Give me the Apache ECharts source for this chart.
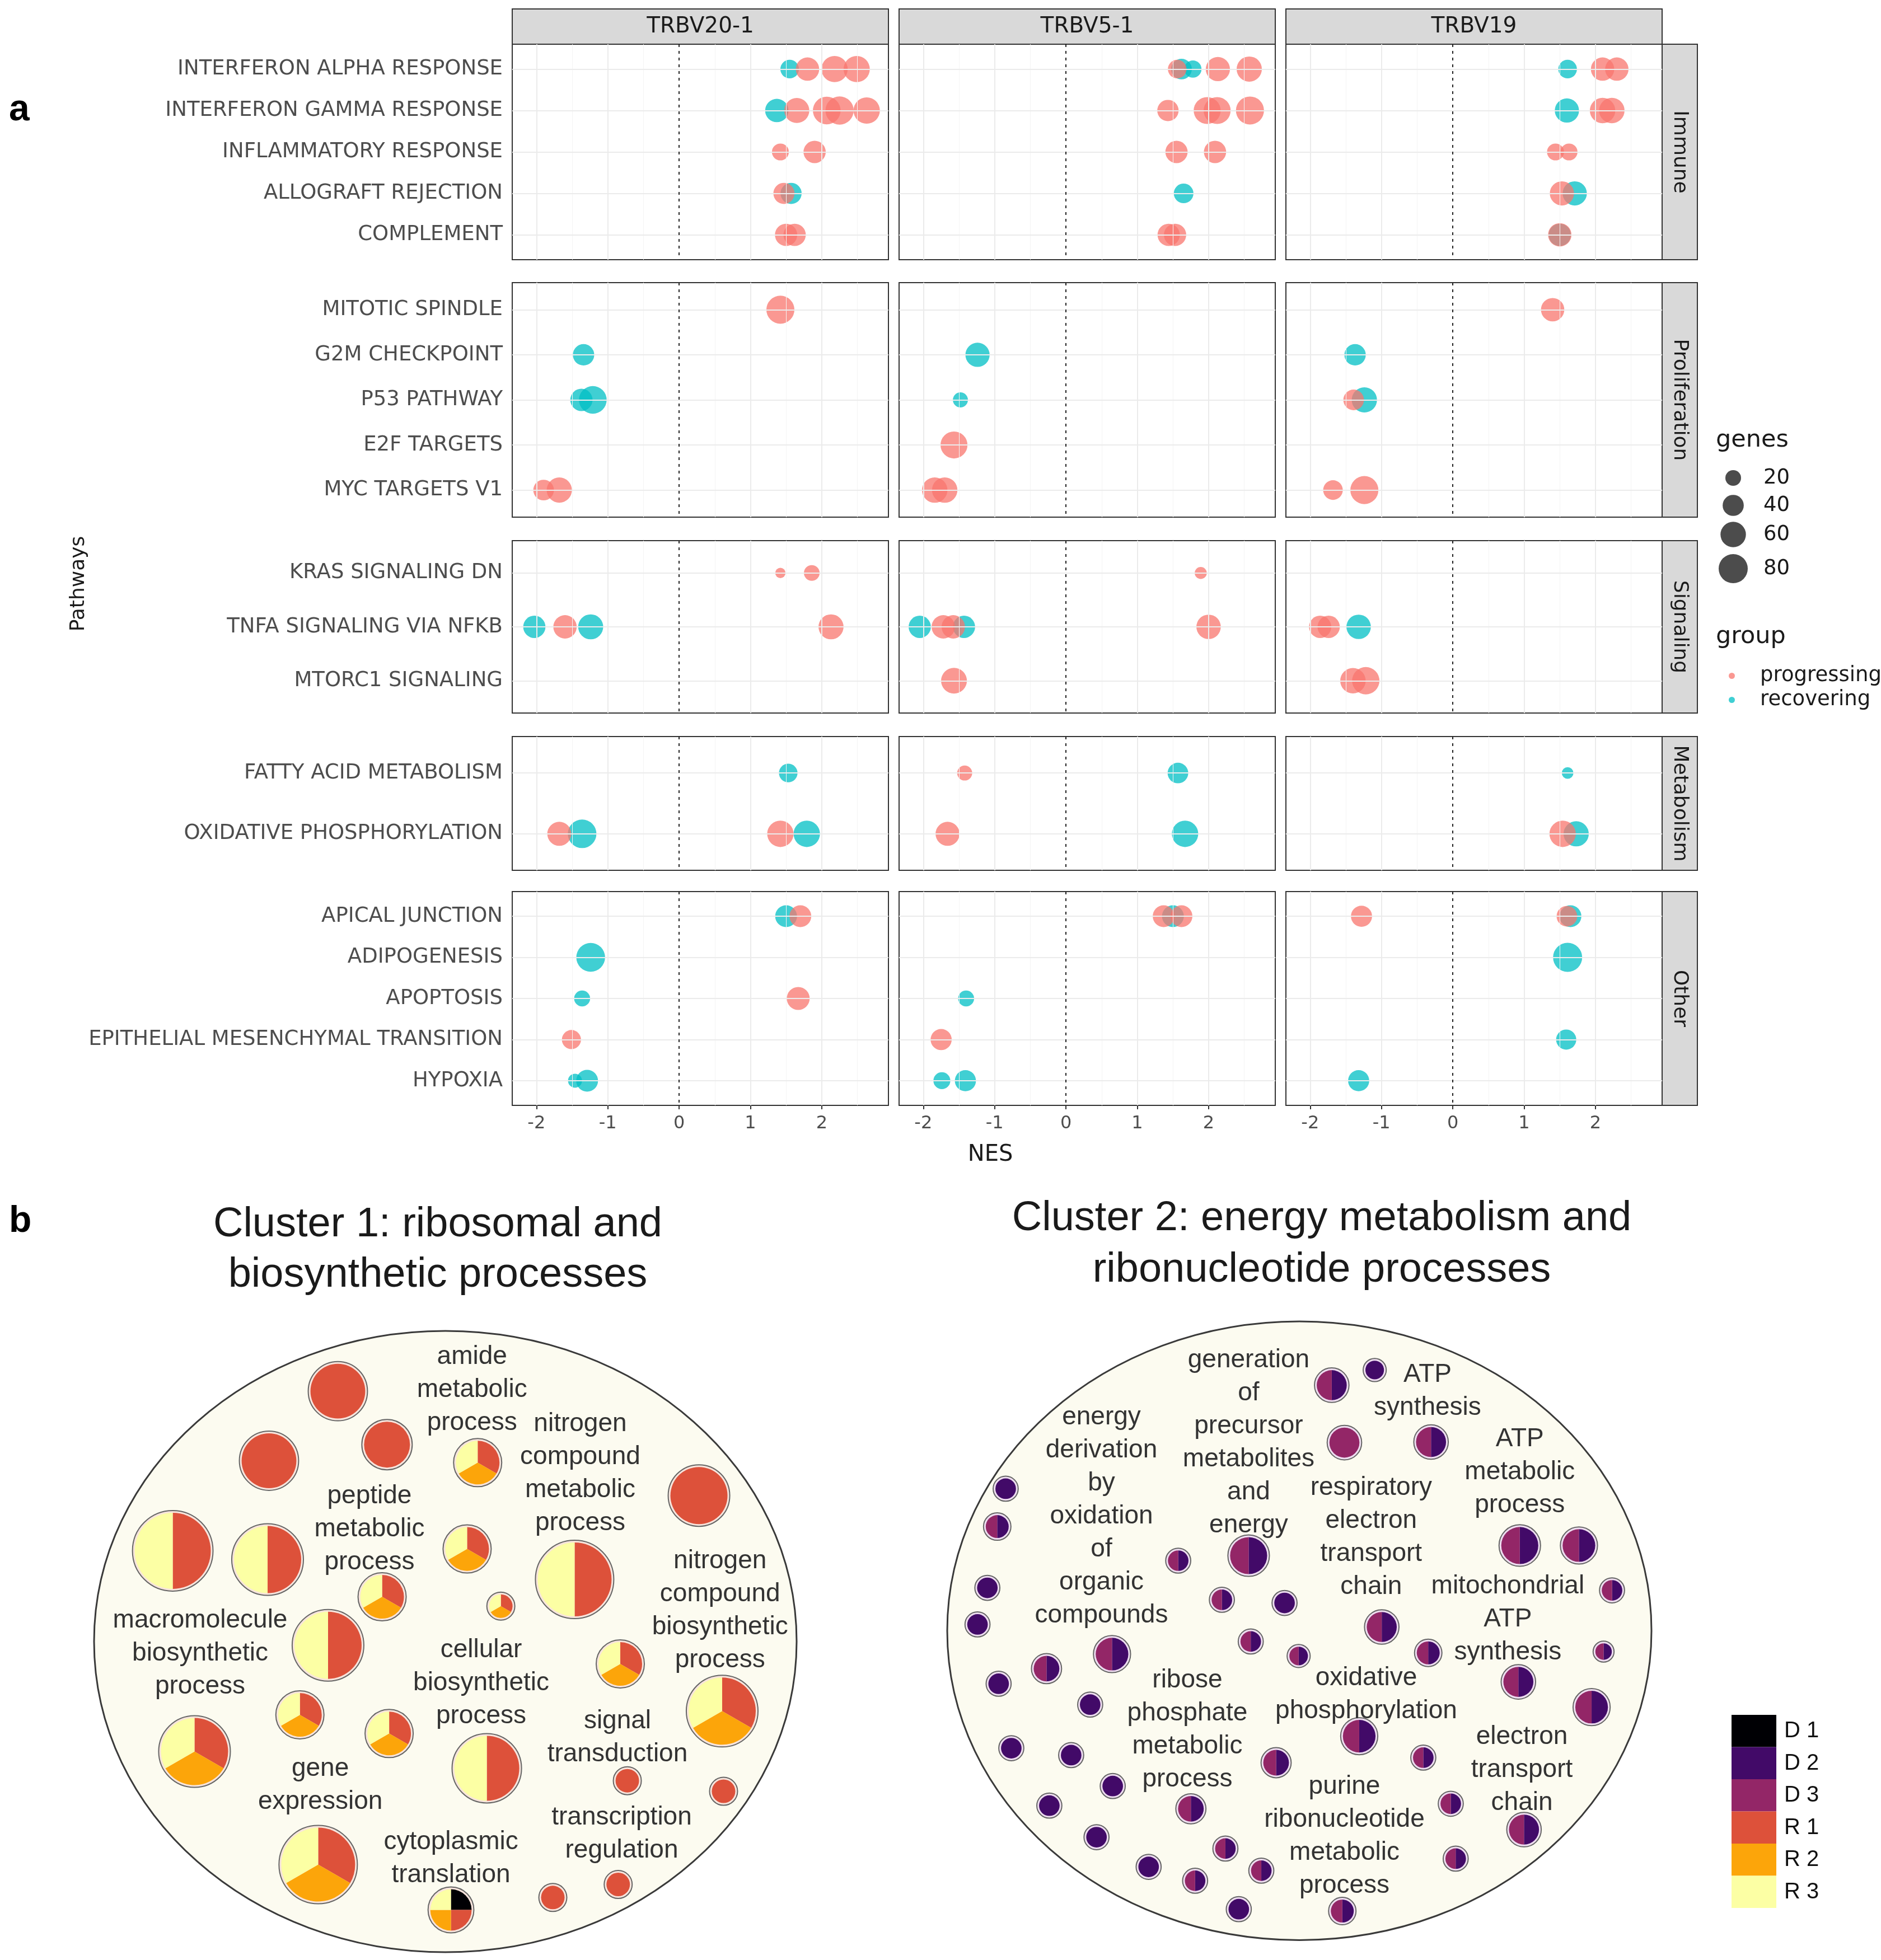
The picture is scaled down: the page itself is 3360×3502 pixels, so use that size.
<!DOCTYPE html>
<html>
<head>
<meta charset="utf-8">
<title>NES dot plot and GO term clusters</title>
<script src="https://cdn.jsdelivr.net/npm/echarts@6.0.0/dist/echarts.min.js"></script>
<style>
  html, body { margin: 0; padding: 0; background: #fff; }
  #main { width: 3360px; height: 3502px; }
</style>
</head>
<body>
<div id="main"></div>
<script>
// ---------- panel a : data ----------
const columns = ['TRBV20-1', 'TRBV5-1', 'TRBV19']
const facets = ['Immune', 'Proliferation', 'Signaling', 'Metabolism', 'Other']
const immune = ['INTERFERON ALPHA RESPONSE', 'INTERFERON GAMMA RESPONSE', 'INFLAMMATORY RESPONSE', 'ALLOGRAFT REJECTION', 'COMPLEMENT']
const proliferation = ['MITOTIC SPINDLE', 'G2M CHECKPOINT', 'P53 PATHWAY', 'E2F TARGETS', 'MYC TARGETS V1']
const signaling = ['KRAS SIGNALING DN', 'TNFA SIGNALING VIA NFKB', 'MTORC1 SIGNALING']
const metabolism = ['FATTY ACID METABOLISM', 'OXIDATIVE PHOSPHORYLATION']
const other = ['APICAL JUNCTION', 'ADIPOGENESIS', 'APOPTOSIS', 'EPITHELIAL MESENCHYMAL TRANSITION', 'HYPOXIA']
const pathways = [immune, proliferation, signaling, metabolism, other]
const groups = ['progressing', 'recovering']
const drawOrder = ['recovering', 'progressing']
const xTicks = [-2, -1, 0, 1, 2]
const geneBreaks = [20, 40, 60, 80]

// [pathway, group, NES, genes]
const P = 'progressing', R = 'recovering'
const trbv20_1 = [
  ['INTERFERON ALPHA RESPONSE', R, 1.55, 30], ['INTERFERON ALPHA RESPONSE', P, 1.80, 50],
  ['INTERFERON ALPHA RESPONSE', P, 2.18, 64], ['INTERFERON ALPHA RESPONSE', P, 2.49, 64],
  ['INTERFERON GAMMA RESPONSE', R, 1.37, 50], ['INTERFERON GAMMA RESPONSE', P, 1.65, 58],
  ['INTERFERON GAMMA RESPONSE', P, 2.07, 72], ['INTERFERON GAMMA RESPONSE', P, 2.25, 75],
  ['INTERFERON GAMMA RESPONSE', P, 2.63, 65],
  ['INFLAMMATORY RESPONSE', P, 1.42, 24], ['INFLAMMATORY RESPONSE', P, 1.90, 45],
  ['ALLOGRAFT REJECTION', P, 1.47, 40], ['ALLOGRAFT REJECTION', R, 1.57, 40],
  ['COMPLEMENT', P, 1.50, 45], ['COMPLEMENT', P, 1.62, 45],
  ['MITOTIC SPINDLE', P, 1.42, 74],
  ['G2M CHECKPOINT', R, -1.34, 41],
  ['P53 PATHWAY', R, -1.37, 45], ['P53 PATHWAY', R, -1.21, 72],
  ['MYC TARGETS V1', P, -1.90, 38], ['MYC TARGETS V1', P, -1.68, 59],
  ['KRAS SIGNALING DN', P, 1.42, 6], ['KRAS SIGNALING DN', P, 1.86, 20],
  ['TNFA SIGNALING VIA NFKB', R, -2.03, 45], ['TNFA SIGNALING VIA NFKB', P, -1.60, 50],
  ['TNFA SIGNALING VIA NFKB', R, -1.24, 58], ['TNFA SIGNALING VIA NFKB', P, 2.13, 58],
  ['FATTY ACID METABOLISM', R, 1.53, 30],
  ['OXIDATIVE PHOSPHORYLATION', P, -1.68, 53], ['OXIDATIVE PHOSPHORYLATION', R, -1.36, 77],
  ['OXIDATIVE PHOSPHORYLATION', P, 1.42, 65], ['OXIDATIVE PHOSPHORYLATION', R, 1.79, 65],
  ['APICAL JUNCTION', R, 1.50, 43], ['APICAL JUNCTION', P, 1.70, 43],
  ['ADIPOGENESIS', R, -1.24, 78],
  ['APOPTOSIS', R, -1.36, 21], ['APOPTOSIS', P, 1.67, 48],
  ['EPITHELIAL MESENCHYMAL TRANSITION', P, -1.51, 32],
  ['HYPOXIA', R, -1.46, 15], ['HYPOXIA', R, -1.29, 43]
]
const trbv5_1 = [
  ['INTERFERON ALPHA RESPONSE', P, 1.56, 30], ['INTERFERON ALPHA RESPONSE', R, 1.62, 38],
  ['INTERFERON ALPHA RESPONSE', R, 1.78, 25], ['INTERFERON ALPHA RESPONSE', P, 2.13, 54],
  ['INTERFERON ALPHA RESPONSE', P, 2.57, 59],
  ['INTERFERON GAMMA RESPONSE', P, 1.43, 41], ['INTERFERON GAMMA RESPONSE', P, 1.98, 68],
  ['INTERFERON GAMMA RESPONSE', P, 2.12, 68], ['INTERFERON GAMMA RESPONSE', P, 2.58, 74],
  ['INFLAMMATORY RESPONSE', P, 1.55, 45], ['INFLAMMATORY RESPONSE', P, 2.09, 45],
  ['ALLOGRAFT REJECTION', R, 1.65, 34],
  ['COMPLEMENT', P, 1.44, 45], ['COMPLEMENT', P, 1.53, 45],
  ['G2M CHECKPOINT', R, -1.24, 54],
  ['P53 PATHWAY', R, -1.48, 18],
  ['E2F TARGETS', P, -1.57, 68],
  ['MYC TARGETS V1', P, -1.84, 60], ['MYC TARGETS V1', P, -1.70, 60],
  ['KRAS SIGNALING DN', P, 1.89, 10],
  ['TNFA SIGNALING VIA NFKB', R, -2.05, 45], ['TNFA SIGNALING VIA NFKB', P, -1.72, 50],
  ['TNFA SIGNALING VIA NFKB', P, -1.58, 50], ['TNFA SIGNALING VIA NFKB', R, -1.43, 45],
  ['TNFA SIGNALING VIA NFKB', P, 2.00, 55],
  ['MTORC1 SIGNALING', P, -1.57, 62],
  ['FATTY ACID METABOLISM', P, -1.42, 18], ['FATTY ACID METABOLISM', R, 1.57, 38],
  ['OXIDATIVE PHOSPHORYLATION', P, -1.66, 53], ['OXIDATIVE PHOSPHORYLATION', R, 1.67, 65],
  ['APICAL JUNCTION', P, 1.37, 43], ['APICAL JUNCTION', R, 1.50, 43], ['APICAL JUNCTION', P, 1.62, 43],
  ['APOPTOSIS', R, -1.40, 21],
  ['EPITHELIAL MESENCHYMAL TRANSITION', P, -1.75, 40],
  ['HYPOXIA', R, -1.74, 24], ['HYPOXIA', R, -1.41, 40]
]
const trbv19 = [
  ['INTERFERON ALPHA RESPONSE', R, 1.61, 30], ['INTERFERON ALPHA RESPONSE', P, 2.10, 50],
  ['INTERFERON ALPHA RESPONSE', P, 2.30, 50],
  ['INTERFERON GAMMA RESPONSE', R, 1.60, 54], ['INTERFERON GAMMA RESPONSE', P, 2.10, 60],
  ['INTERFERON GAMMA RESPONSE', P, 2.23, 60],
  ['INFLAMMATORY RESPONSE', P, 1.44, 24], ['INFLAMMATORY RESPONSE', P, 1.63, 24],
  ['ALLOGRAFT REJECTION', P, 1.53, 54], ['ALLOGRAFT REJECTION', R, 1.71, 54],
  ['COMPLEMENT', R, 1.50, 45], ['COMPLEMENT', P, 1.50, 50],
  ['MITOTIC SPINDLE', P, 1.40, 50],
  ['G2M CHECKPOINT', R, -1.37, 41],
  ['P53 PATHWAY', P, -1.39, 38], ['P53 PATHWAY', R, -1.24, 59],
  ['MYC TARGETS V1', P, -1.68, 34], ['MYC TARGETS V1', P, -1.24, 74],
  ['TNFA SIGNALING VIA NFKB', P, -1.86, 45], ['TNFA SIGNALING VIA NFKB', P, -1.74, 45],
  ['TNFA SIGNALING VIA NFKB', R, -1.32, 55],
  ['MTORC1 SIGNALING', P, -1.40, 60], ['MTORC1 SIGNALING', P, -1.22, 70],
  ['FATTY ACID METABOLISM', R, 1.61, 9],
  ['OXIDATIVE PHOSPHORYLATION', P, 1.54, 65], ['OXIDATIVE PHOSPHORYLATION', R, 1.73, 59],
  ['APICAL JUNCTION', P, -1.28, 40], ['APICAL JUNCTION', P, 1.60, 38], ['APICAL JUNCTION', R, 1.65, 43],
  ['ADIPOGENESIS', R, 1.61, 80],
  ['EPITHELIAL MESENCHYMAL TRANSITION', R, 1.59, 36],
  ['HYPOXIA', R, -1.32, 40]
]
const columnData = [trbv20_1, trbv5_1, trbv19]

// ---------- panel b : data ----------
const classNames = ['D 1', 'D 2', 'D 3', 'R 1', 'R 2', 'R 3']
const classKeys = ['D1', 'D2', 'D3', 'R1', 'R2', 'R3']
const classColors = ['#000004', '#420A68', '#932667', '#DD513A', '#FCA50A', '#FCFFA4']

// [x, y (layout units 0-100), size, member classes]
const cluster1Nodes = [
  [34.7, 9.7, 112, 'R1'], [24.9, 20.9, 112, 'R1'], [41.7, 18.3, 81, 'R1'],
  [54.6, 21.2, 74, 'R1 R2 R3'], [86.1, 26.5, 121, 'R1'], [11.2, 35.4, 207, 'R1 R3'],
  [24.7, 36.8, 164, 'R1 R3'], [53.1, 35.1, 74, 'R1 R2 R3'], [68.4, 40.0, 196, 'R1 R3'],
  [41.0, 42.8, 74, 'R1 R2 R3'], [57.9, 44.3, 25, 'R1 R2 R3'], [33.3, 50.6, 164, 'R1 R3'],
  [74.9, 53.6, 74, 'R1 R2 R3'], [89.4, 61.2, 164, 'R1 R2 R3'], [29.3, 61.8, 74, 'R1 R2 R3'],
  [42.0, 64.8, 74, 'R1 R2 R3'], [14.3, 67.7, 164, 'R1 R2 R3'], [55.9, 70.4, 154, 'R1 R3'],
  [75.9, 72.4, 25, 'R1'], [89.6, 74.1, 25, 'R1'], [31.9, 85.9, 196, 'R1 R2 R3'],
  [50.8, 93.2, 67, 'D1 R1 R2 R3'], [65.3, 91.2, 25, 'R1'], [74.6, 89.1, 25, 'R1']
]
const cluster1Labels = [
  [53.8, 9.5, 'amide\nmetabolic\nprocess'],
  [69.2, 23.0, 'nitrogen\ncompound\nmetabolic\nprocess'],
  [39.2, 31.9, 'peptide\nmetabolic\nprocess'],
  [89.1, 45.0, 'nitrogen\ncompound\nbiosynthetic\nprocess'],
  [15.1, 51.9, 'macromolecule\nbiosynthetic\nprocess'],
  [55.1, 56.7, 'cellular\nbiosynthetic\nprocess'],
  [74.5, 65.5, 'signal\ntransduction'],
  [32.2, 73.1, 'gene\nexpression'],
  [75.1, 81.0, 'transcription\nregulation'],
  [50.8, 84.9, 'cytoplasmic\ntranslation']
]
const cluster2Nodes = [
  [54.6, 10.1, 38, 'D2 D3'], [60.7, 7.7, 17, 'D2'], [56.4, 19.2, 38, 'D3'],
  [68.7, 19.1, 38, 'D2 D3'], [8.3, 26.5, 20, 'D2'], [7.1, 32.5, 24, 'D2 D3'],
  [32.8, 37.9, 20, 'D2 D3'], [42.8, 37.1, 55, 'D2 D3'], [81.3, 35.5, 55, 'D2 D3'],
  [89.7, 35.5, 44, 'D2 D3'], [94.4, 42.6, 20, 'D2 D3'], [5.7, 42.2, 20, 'D2'],
  [39.0, 44.1, 20, 'D2 D3'], [47.9, 44.6, 20, 'D2'], [4.3, 48.0, 20, 'D2'],
  [61.7, 48.4, 38, 'D2 D3'], [43.1, 50.7, 20, 'D2 D3'], [49.9, 53.0, 17, 'D2 D3'],
  [68.3, 52.5, 24, 'D2 D3'], [93.2, 52.3, 14, 'D2 D3'], [23.4, 52.7, 44, 'D2 D3'],
  [14.1, 55.0, 29, 'D2 D3'], [7.3, 57.4, 20, 'D2'], [81.1, 57.1, 38, 'D2 D3'],
  [20.3, 60.7, 20, 'D2'], [91.5, 61.1, 44, 'D2 D3'], [58.5, 65.7, 44, 'D2 D3'],
  [9.1, 67.6, 20, 'D2'], [17.6, 68.7, 20, 'D2'], [46.7, 69.9, 29, 'D2 D3'],
  [67.6, 69.1, 20, 'D2 D3'], [23.5, 73.6, 20, 'D2'], [14.5, 76.7, 20, 'D2'],
  [34.6, 77.2, 29, 'D2 D3'], [71.5, 76.4, 20, 'D2 D3'], [81.9, 80.5, 38, 'D2 D3'],
  [21.2, 81.7, 20, 'D2'], [39.5, 83.5, 20, 'D2 D3'], [72.2, 85.1, 20, 'D2 D3'],
  [28.6, 86.4, 20, 'D2'], [35.2, 88.6, 20, 'D2 D3'], [44.6, 87.0, 20, 'D2 D3'],
  [41.4, 93.1, 20, 'D2'], [56.1, 93.4, 24, 'D2 D3']
]
const cluster2Labels = [
  [42.8, 19.2, 'generation\nof\nprecursor\nmetabolites\nand\nenergy'],
  [21.9, 30.9, 'energy\nderivation\nby\noxidation\nof\norganic\ncompounds'],
  [68.2, 11.1, 'ATP\nsynthesis'],
  [81.3, 23.9, 'ATP\nmetabolic\nprocess'],
  [60.2, 34.2, 'respiratory\nelectron\ntransport\nchain'],
  [79.6, 47.2, 'mitochondrial\nATP\nsynthesis'],
  [34.1, 64.7, 'ribose\nphosphate\nmetabolic\nprocess'],
  [59.5, 59.1, 'oxidative\nphosphorylation'],
  [81.6, 71.0, 'electron\ntransport\nchain'],
  [56.4, 81.5, 'purine\nribonucleotide\nmetabolic\nprocess']
]

// ---------- layout / style ----------
const FA = '"DejaVu Sans", sans-serif'
const FB = '"Liberation Sans", Arial, sans-serif'
const groupColors = { progressing: '#F8766D', recovering: '#00BFC4' }
const colLeft = [915, 1606, 2297]
const panelW = 672
const rowTop = [79, 505, 966, 1316, 1593]
const rowBottom = [464, 924, 1274, 1555, 1975]
const stripTop = 16
const stripW = 63

// genes -> point diameter (area grows with genes)
const pointSize = g => Math.sqrt(144 + 32 * g)
// node size -> radius
const nodeRadius = s => 5 * Math.sqrt(s)

const grids = [], xAxes = [], yAxes = [], series = [], graphics = []

facets.forEach((facet, r) => {
  const names = pathways[r]
  const bottom = r === facets.length - 1
  columns.forEach((col, c) => {
    const k = grids.length
    grids.push({
      left: colLeft[c], top: rowTop[r], width: panelW, height: rowBottom[r] - rowTop[r],
      show: true, borderColor: '#333', borderWidth: 2, backgroundColor: '#fff'
    })
    xAxes.push({
      gridIndex: k, type: 'value', min: -2.34, max: 2.935,
      axisLine: { show: false }, splitLine: { show: false },
      axisTick: { show: bottom, customValues: xTicks, length: 7, lineStyle: { color: '#333', width: 2 } },
      axisLabel: { show: bottom, customValues: xTicks, margin: 17, fontSize: 32, fontFamily: FA, color: '#4D4D4D' }
    })
    yAxes.push({
      gridIndex: k, type: 'value', inverse: true, min: 0.4, max: names.length + 0.6,
      axisLine: { show: false }, splitLine: { show: false },
      axisTick: { show: c === 0, customValues: names.map((n, i) => i + 1), length: 7, lineStyle: { color: '#333', width: 2 } },
      axisLabel: {
        show: c === 0, customValues: names.map((n, i) => i + 1), margin: 17,
        fontSize: 37, fontFamily: FA, color: '#4D4D4D',
        formatter: v => names[Math.round(v) - 1] || ''
      }
    })
    // grid lines and the dotted zero line
    const lines = []
    ;[-2, -1, 1, 2].forEach(v => lines.push({ xAxis: v, lineStyle: { color: '#EBEBEB', width: 2, type: 'solid' } }))
    ;[-1.5, -0.5, 0.5, 1.5, 2.5].forEach(v => lines.push({ xAxis: v, lineStyle: { color: '#F4F4F4', width: 1, type: 'solid' } }))
    names.forEach((n, i) => lines.push({ yAxis: i + 1, lineStyle: { color: '#EBEBEB', width: 2, type: 'solid' } }))
    lines.push({ xAxis: 0, lineStyle: { color: '#222', width: 2, type: [5, 7] } })
    series.push({
      type: 'scatter', xAxisIndex: k, yAxisIndex: k, data: [], silent: true, z: 1,
      markLine: { silent: true, symbol: 'none', animation: false, label: { show: false }, data: lines }
    })
    drawOrder.forEach(g => {
      series.push({
        type: 'scatter', name: g, xAxisIndex: k, yAxisIndex: k, z: 3,
        data: columnData[c]
          .filter(p => p[1] === g && names.includes(p[0]))
          .map(p => [p[2], names.indexOf(p[0]) + 1, p[3]]),
        symbolSize: d => pointSize(d[2]),
        itemStyle: { color: groupColors[g], opacity: 0.75 }
      })
    })
    if (r === 0) {
      graphics.push({ type: 'rect', shape: { x: colLeft[c], y: stripTop, width: panelW, height: rowTop[0] - stripTop },
        style: { fill: '#D9D9D9', stroke: '#333', lineWidth: 2 } })
      graphics.push({ type: 'text', x: colLeft[c] + panelW / 2, y: (stripTop + rowTop[0]) / 2,
        style: { text: col, font: '39px ' + FA, fill: '#1A1A1A', align: 'center', verticalAlign: 'middle' } })
    }
  })
  const sx = colLeft[2] + panelW
  graphics.push({ type: 'rect', shape: { x: sx, y: rowTop[r], width: stripW, height: rowBottom[r] - rowTop[r] },
    style: { fill: '#D9D9D9', stroke: '#333', lineWidth: 2 } })
  graphics.push({ type: 'text', x: sx + stripW / 2, y: (rowTop[r] + rowBottom[r]) / 2, rotation: -Math.PI / 2,
    style: { text: facet, font: '36px ' + FA, fill: '#1A1A1A', align: 'center', verticalAlign: 'middle' } })
})

// axis titles, panel letters
graphics.push({ type: 'text', x: 1769, y: 2064, style: { text: 'NES', font: '40px ' + FA, fill: '#1A1A1A', align: 'center', verticalAlign: 'middle' } })
graphics.push({ type: 'text', x: 141, y: 1043, rotation: Math.PI / 2, style: { text: 'Pathways', font: '36px ' + FA, fill: '#1A1A1A', align: 'center', verticalAlign: 'middle' } })
graphics.push({ type: 'text', x: 16, y: 197, style: { text: 'a', font: 'bold 66px ' + FB, fill: '#000', align: 'left', verticalAlign: 'middle' } })
graphics.push({ type: 'text', x: 16, y: 2183, style: { text: 'b', font: 'bold 66px ' + FB, fill: '#000', align: 'left', verticalAlign: 'middle' } })

// genes size legend
graphics.push({ type: 'text', x: 3065, y: 787, style: { text: 'genes', font: '43px ' + FA, fill: '#1A1A1A', align: 'left', verticalAlign: 'middle' } })
const geneKeyY = [854, 903, 955, 1016]
geneBreaks.forEach((g, i) => {
  graphics.push({ type: 'circle', shape: { cx: 3096, cy: geneKeyY[i], r: pointSize(g) / 2 }, style: { fill: '#000', opacity: 0.7 } })
  graphics.push({ type: 'text', x: 3150, y: geneKeyY[i], style: { text: String(g), font: '37px ' + FA, fill: '#1A1A1A', align: 'left', verticalAlign: 'middle' } })
})
graphics.push({ type: 'text', x: 3065, y: 1138, style: { text: 'group', font: '43px ' + FA, fill: '#1A1A1A', align: 'left', verticalAlign: 'middle' } })

// ---------- panel b ----------
const clusterBoxes = [
  { left: 168, top: 2378, width: 1255, height: 1110 },
  { left: 1692, top: 2361, width: 1258, height: 1128 }
]
// outline extent in layout units [x0, x1, y0, y1]
const outlineExtent = [[0, 100, 0, 100], [0, 100, 0, 98]]
const clusterNodes = [cluster1Nodes, cluster2Nodes]
const clusterLabels = [cluster1Labels, cluster2Labels]
const ringColors = ['#F7E4DC', '#EEDDF0']
const titles = [
  { x: 782, lines: ['Cluster 1: ribosomal and', 'biosynthetic processes'], y: [2189, 2279] },
  { x: 2361, lines: ['Cluster 2: energy metabolism and', 'ribonucleotide processes'], y: [2178, 2270] }
]

clusterBoxes.forEach((box, i) => {
  const k = grids.length
  grids.push(Object.assign({ show: false }, box))
  xAxes.push({ gridIndex: k, type: 'value', min: 0, max: 100, show: false })
  yAxes.push({ gridIndex: k, type: 'value', min: 0, max: 100, inverse: true, show: false })
  // background ellipse
  const ext = outlineExtent[i]
  series.push({
    type: 'custom', xAxisIndex: k, yAxisIndex: k, z: 1, silent: true, data: [[50, 50]],
    renderItem: (params, api) => {
      const a = api.coord([ext[0], ext[2]]), b = api.coord([ext[1], ext[3]])
      return { type: 'ellipse', shape: { cx: (a[0] + b[0]) / 2, cy: (a[1] + b[1]) / 2, rx: Math.abs(b[0] - a[0]) / 2, ry: Math.abs(b[1] - a[1]) / 2 },
        style: { fill: '#FCFBF0', stroke: '#3a3a3a', lineWidth: 3 } }
    }
  })
  // pie nodes
  const nodes = clusterNodes[i]
  series.push({
    type: 'custom', xAxisIndex: k, yAxisIndex: k, z: 2, silent: true,
    data: nodes.map(n => [n[0], n[1], n[2]]),
    renderItem: (params, api) => {
      const n = nodes[params.dataIndex]
      const [cx, cy] = api.coord([api.value(0), api.value(1)])
      const r = nodeRadius(api.value(2))
      const members = n[3].split(' ')
      const parts = classKeys.map((key, j) => ({ key, color: classColors[j] })).filter(p => members.includes(p.key))
      const children = [{ type: 'circle', shape: { cx, cy, r }, style: { fill: ringColors[i], stroke: '#666', lineWidth: 2 } }]
      parts.forEach((p, j) => {
        const a0 = -Math.PI / 2 + (j / parts.length) * Math.PI * 2
        const a1 = -Math.PI / 2 + ((j + 1) / parts.length) * Math.PI * 2
        children.push({ type: 'sector', shape: { cx, cy, r0: 0, r: r - 4, startAngle: a0, endAngle: a1, clockwise: true },
          style: { fill: p.color } })
      })
      return { type: 'group', children }
    }
  })
  // term labels
  const labels = clusterLabels[i]
  series.push({
    type: 'custom', xAxisIndex: k, yAxisIndex: k, z: 3, silent: true,
    data: labels.map(l => [l[0], l[1]]),
    renderItem: (params, api) => {
      const [x, y] = api.coord([api.value(0), api.value(1)])
      return { type: 'text', x, y, style: { text: labels[params.dataIndex][2], font: '46px ' + FB, lineHeight: 59,
        fill: '#333', align: 'center', verticalAlign: 'middle' } }
    }
  })
  titles[i].lines.forEach((t, j) => {
    graphics.push({ type: 'text', x: titles[i].x, y: titles[i].y[j], style: { text: t, font: '74px ' + FB, fill: '#1A1A1A', align: 'center', verticalAlign: 'middle' } })
  })
})

// class colour legend
classNames.forEach((name, j) => {
  const y = 3064 + j * 57.5
  graphics.push({ type: 'rect', shape: { x: 3093, y, width: 80, height: 57.5 }, style: { fill: classColors[j] } })
  graphics.push({ type: 'text', x: 3187, y: y + 29, style: { text: name, font: '40px ' + FB, fill: '#111', align: 'left', verticalAlign: 'middle' } })
})

const chart = echarts.init(document.getElementById('main'))
chart.setOption({
  animation: false,
  backgroundColor: '#fff',
  grid: grids,
  xAxis: xAxes,
  yAxis: yAxes,
  legend: {
    data: groups, orient: 'vertical', left: 3083, top: 1184, icon: 'circle',
    itemWidth: 11, itemHeight: 11, itemGap: 6, selectedMode: false,
    textStyle: { fontFamily: FA, fontSize: 37, color: '#1A1A1A', padding: [0, 0, 0, 40] }
  },
  series,
  graphic: graphics
})
</script>
</body>
</html>
